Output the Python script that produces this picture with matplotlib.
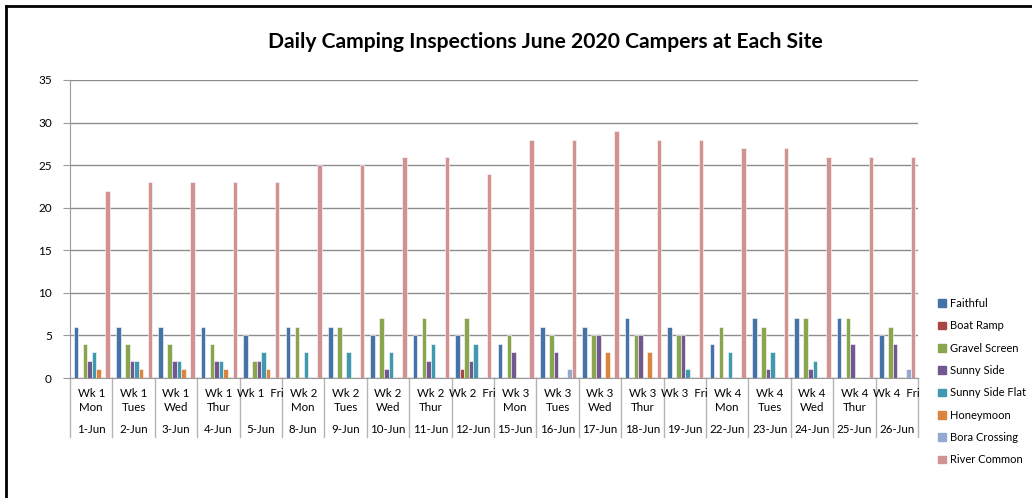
import matplotlib.pyplot as plt
from matplotlib.lines import Line2D
import numpy as np

plt.rcParams['font.family'] = ['Lato', 'DejaVu Sans']

# week/day labels and dates along the x axis
day_labels = ['Wk 1\nMon', 'Wk 1\nTues', 'Wk 1\nWed', 'Wk 1\nThur', 'Wk 1  Fri',
              'Wk 2\nMon', 'Wk 2\nTues', 'Wk 2\nWed', 'Wk 2\nThur', 'Wk 2  Fri',
              'Wk 3\nMon', 'Wk 3\nTues', 'Wk 3\nWed', 'Wk 3\nThur', 'Wk 3  Fri',
              'Wk 4\nMon', 'Wk 4\nTues', 'Wk 4\nWed', 'Wk 4\nThur', 'Wk 4  Fri']
dates = ['1-Jun', '2-Jun', '3-Jun', '4-Jun', '5-Jun', '8-Jun', '9-Jun', '10-Jun',
         '11-Jun', '12-Jun', '15-Jun', '16-Jun', '17-Jun', '18-Jun', '19-Jun',
         '22-Jun', '23-Jun', '24-Jun', '25-Jun', '26-Jun']

faithful =        [6, 6, 6, 6, 5, 6, 6, 5, 5, 5, 4, 6, 6, 7, 6, 4, 7, 7, 7, 5]
boat_ramp =       [0, 0, 0, 0, 0, 0, 0, 0, 0, 1, 0, 0, 0, 0, 0, 0, 0, 0, 0, 0]
gravel_screen =   [4, 4, 4, 4, 2, 6, 6, 7, 7, 7, 5, 5, 5, 5, 5, 6, 6, 7, 7, 6]
sunny_side =      [2, 2, 2, 2, 2, 0, 0, 1, 2, 2, 3, 3, 5, 5, 5, 0, 1, 1, 4, 4]
sunny_side_flat = [3, 2, 2, 2, 3, 3, 3, 3, 4, 4, 0, 0, 0, 0, 1, 3, 3, 2, 0, 0]
honeymoon =       [1, 1, 1, 1, 1, 0, 0, 0, 0, 0, 0, 0, 3, 3, 0, 0, 0, 0, 0, 0]
bora_crossing =   [0, 0, 0, 0, 0, 0, 0, 0, 0, 0, 0, 1, 0, 0, 0, 0, 0, 0, 0, 1]
river_common =    [22, 23, 23, 23, 23, 25, 25, 26, 26, 24, 28, 28, 29, 28, 28, 27, 27, 26, 26, 26]

series = [('Faithful', faithful, '#4572a7'),
          ('Boat Ramp', boat_ramp, '#aa4643'),
          ('Gravel Screen', gravel_screen, '#89a54e'),
          ('Sunny Side', sunny_side, '#71588f'),
          ('Sunny Side Flat', sunny_side_flat, '#4198af'),
          ('Honeymoon', honeymoon, '#db843d'),
          ('Bora Crossing', bora_crossing, '#93a9cf'),
          ('River Common', river_common, '#d19392')]

W, H = 1032, 498
fig = plt.figure(figsize=(W / 100, H / 100), dpi=100)
x0, x1, y0, y1 = 70, 918, 80, 378
ax = fig.add_axes([x0 / W, 1 - y1 / H, (x1 - x0) / W, (y1 - y0) / H])

n = len(dates)
x = np.arange(n)
slot = 0.107
for i, (name, vals, col) in enumerate(series):
    ax.bar(x - 0.5 + 0.085 + slot * (i + 0.5), vals, width=slot, color=col,
           edgecolor='white', linewidth=0.4, label=name, zorder=3)

ax.set_xlim(-0.5, n - 0.5)
ax.set_ylim(0, 35)
ax.set_yticks(range(0, 36, 5))
ax.yaxis.grid(True, color='#8c8c8c', linewidth=1)
ax.set_axisbelow(True)
for s in ['top', 'right']:
    ax.spines[s].set_visible(False)
ax.spines['left'].set_color('#9a9a9a')
ax.spines['bottom'].set_color('#9a9a9a')
ax.tick_params(axis='y', length=5, color='#9a9a9a', labelsize=8.5, pad=8)
ax.set_xticks([])

axis_h = y1 - y0
tr = ax.get_xaxis_transform()
for i in range(n):
    lab = day_labels[i]
    if '\n' in lab:
        top, bot = lab.split('\n')
        ax.text(i, -15 / axis_h, top, transform=tr, ha='center', va='center', fontsize=8.3)
        ax.text(i, -29 / axis_h, bot, transform=tr, ha='center', va='center', fontsize=8.3)
    else:
        ax.text(i, -15 / axis_h, lab, transform=tr, ha='center', va='center', fontsize=8.3)
    ax.text(i, -51 / axis_h, dates[i], transform=tr, ha='center', va='center', fontsize=8.3)
for b in range(n + 1):
    ax.plot([b - 0.5, b - 0.5], [0, -59 / axis_h], transform=tr,
            color='#b5b5b5', linewidth=1, clip_on=False)

fig.text(545 / W, 1 - 42 / H, 'Daily Camping Inspections June 2020 Campers at Each Site',
         ha='center', va='center', fontsize=15.2, fontweight='bold')

handles = [plt.Rectangle((0, 0), 1, 1, color=c) for _, _, c in series]
fig.legend(handles, [s[0] for s in series], loc='upper left',
           bbox_to_anchor=(928 / W, 1 - 288 / H), frameon=False, fontsize=8,
           handlelength=0.7, handleheight=0.7, handletextpad=0.4, labelspacing=1.02)

# outer border (left and top)
fig.add_artist(Line2D([6 / W, 6 / W], [0, 1 - 6 / H], color='black', linewidth=2))
fig.add_artist(Line2D([6 / W, 1], [1 - 6 / H, 1 - 6 / H], color='black', linewidth=2))

fig.savefig('out.png', dpi=100)
